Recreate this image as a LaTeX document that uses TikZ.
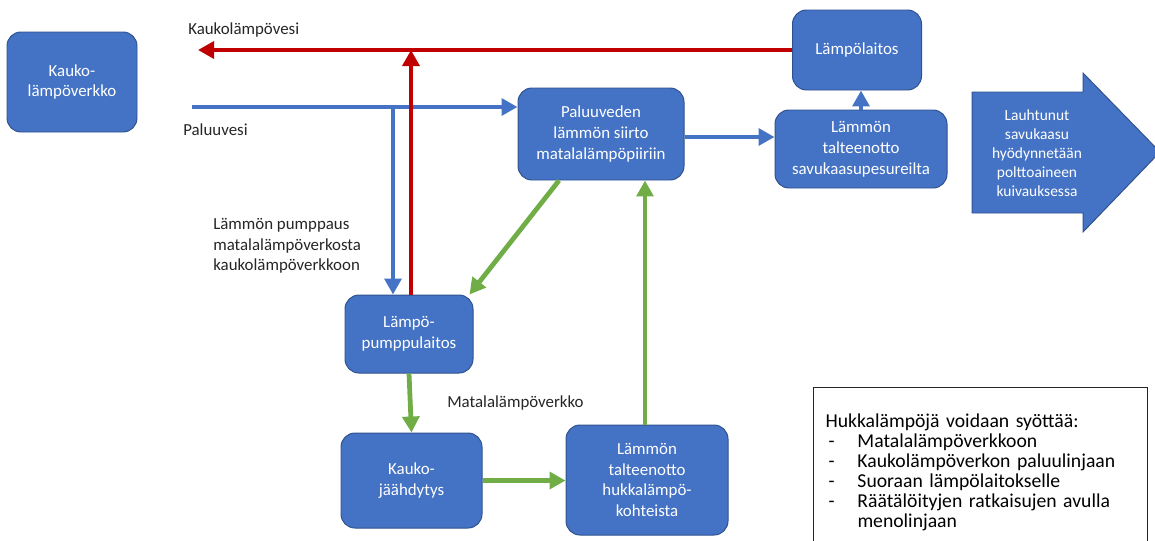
\documentclass[tikz,border=0pt]{standalone}
\usepackage{fontspec}
\setmainfont{Carlito}
\usepackage{xcolor}
\usetikzlibrary{
  positioning,
  arrows.meta
}
\definecolor{laatikko}{HTML}{4472C4}
\definecolor{reuna}{HTML}{2F528F}
\definecolor{kuuma}{HTML}{C00000}
\definecolor{vihrea}{HTML}{70AD47}
\definecolor{teksti}{HTML}{262626}

\tikzset{
  prosessi/.style={rectangle, rounded corners=0.35cm, draw=reuna, fill=laatikko,
    line width=0.7pt, text=white, align=center, inner sep=2pt,
    font=\fontsize{12}{14.8}\selectfont},
  selite/.style={anchor=west, text=teksti, align=left, inner sep=0pt,
    font=\fontsize{12}{14.6}\selectfont},
  menovesi/.style={draw=kuuma, line width=3.4pt},
  paluu/.style={draw=laatikko, line width=3pt},
  matala/.style={draw=vihrea, line width=3.4pt}
}

\begin{document}
\begin{tikzpicture}[>={Triangle[length=4mm,width=4.2mm]}]
  \useasboundingbox (0,0) rectangle (28.875,-13.5);
  \clip (0,0) rectangle (28.875,-13.5);

  % laatikot
  \node[prosessi, minimum width=3.25cm, minimum height=2.5cm] (kaukoverkko) at (1.8,-2.05) {Kauko-\\lämpöverkko};
  \node[prosessi, minimum width=3.225cm, minimum height=2cm] (lampolaitos) at (21.425,-1.25) {Lämpölaitos};
  \node[prosessi, minimum width=4.15cm, minimum height=2.3cm] (siirto) at (15.025,-3.35) {Paluuveden\\lämmön siirto\\matalalämpöpiiriin};
  \node[prosessi, minimum width=4.3cm, minimum height=1.95cm] (savukaasu) at (21.525,-3.725) {Lämmön\\talteenotto\\savukaasupesureilta};
  \node[prosessi, minimum width=3.2cm, minimum height=1.95cm] (pumppu) at (10.225,-8.35) {Lämpö-\\pumppulaitos};
  \node[prosessi, minimum width=3.525cm, minimum height=2.375cm] (jaahdytys) at (10.2875,-12.0125) {Kauko-\\jäähdytys};
  \node[prosessi, minimum width=4.05cm, minimum height=2.75cm] (hukka) at (16.175,-12.0) {Lämmön\\talteenotto\\hukkalämpö-\\kohteista};

  % iso nuoli
  \draw[fill=laatikko, draw=reuna, line width=0.7pt] (24.3,-2.3) -- (27.075,-2.3) -- (27.075,-1.825)
    -- (29.0,-3.8) -- (27.075,-5.8) -- (27.075,-5.325) -- (24.3,-5.325) -- cycle;
  \node[text=white, align=center, font=\fontsize{11}{13.6}\selectfont] (lauhtunut) at (25.925,-3.825)
    {Lauhtunut\\savukaasu\\hyödynnetään\\polttoaineen\\kuivauksessa};

  % vapaat päät
  \coordinate (kvesi) at (4.95,-1.25);
  \coordinate (pvesi) at (4.8,-2.675);
  \coordinate (haara) at ([xshift=-0.4cm]pumppu.north);
  \coordinate (nousu) at ([xshift=0.05cm]pumppu.north);
  \coordinate (s1) at ([yshift=-0.075cm]siirto.east);
  \coordinate (g1) at ([xshift=-1.05cm]siirto.south);
  \coordinate (g2) at ([xshift=-0.1cm]pumppu.north east);
  \coordinate (g3) at ([xshift=-0.05cm]hukka.north);

  % paluuvesi
  \draw[paluu, ->] (pvesi) -- (pvesi -| siirto.west);
  \draw[paluu, ->] (haara |- pvesi) -- (haara);
  \draw[paluu, ->] (s1) -- (s1 -| savukaasu.west);
  \draw[paluu, ->] (savukaasu.north) -- (savukaasu.north |- lampolaitos.south);

  % kaukolämpövesi
  \draw[menovesi, ->] (nousu) -- (nousu |- kvesi);
  \draw[menovesi, ->] (lampolaitos.west) -- (kvesi);

  % matalalämpöverkko
  \draw[matala, ->] (g1) -- (g2);
  \draw[matala, ->] (g3) -- (g3 |- siirto.south);
  \draw[matala, ->] (pumppu.south) -- (jaahdytys.north);
  \draw[matala, ->] (jaahdytys.east) -- (jaahdytys.east -| hukka.west);

  % tekstit
  \node[selite] (kvteksti) at (4.7,-0.75) {Kaukolämpövesi};
  \node[selite] (pvteksti) at (4.575,-3.25) {Paluuvesi};
  \node[selite] (pumppaus) at (5.325,-6.15) {Lämmön pumppaus\\matalalämpöverkosta\\kaukolämpöverkkoon};
  \node[selite] (mlteksti) at (11.175,-10.075) {Matalalämpöverkko};

  \node[draw=teksti, line width=0.7pt, anchor=north west, text=black, align=left,
    text width=7.75cm, inner xsep=0.3cm, inner ysep=0.66cm,
    font=\fontsize{14}{14.2}\selectfont] (syotto) at (20.325,-9.675)
    {Hukkalämpöjä voidaan syöttää:\\
     \makebox[0.8cm][l]{\hspace*{0.075cm}-}Matalalämpöverkkoon\\
     \makebox[0.8cm][l]{\hspace*{0.075cm}-}Kaukolämpöverkon paluulinjaan\\
     \makebox[0.8cm][l]{\hspace*{0.075cm}-}Suoraan lämpölaitokselle\\
     \makebox[0.8cm][l]{\hspace*{0.075cm}-}Räätälöityjen ratkaisujen avulla\\
     \hspace*{0.8cm}menolinjaan};
\end{tikzpicture}
\end{document}
